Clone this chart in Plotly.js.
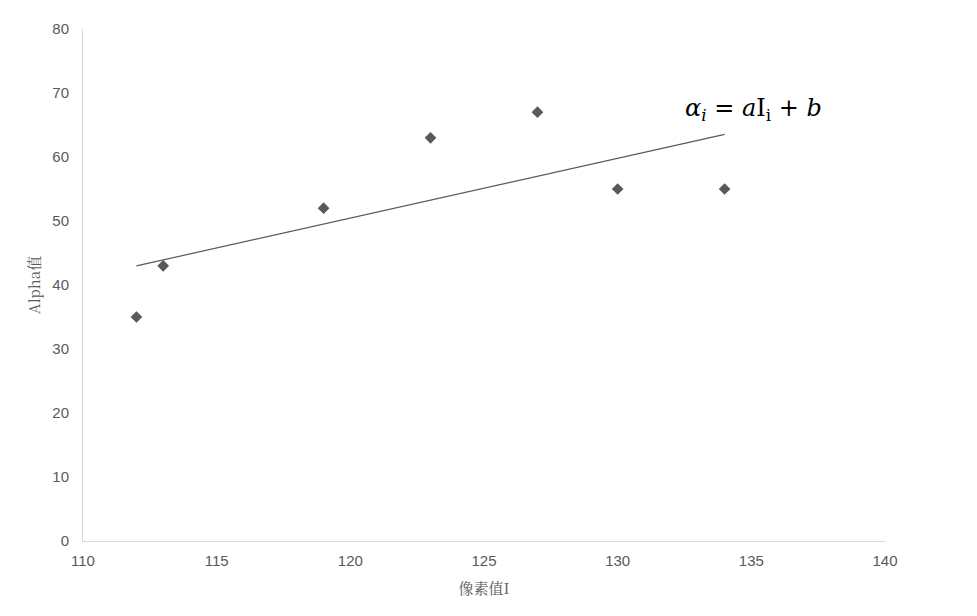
<!DOCTYPE html>
<html>
<head>
<meta charset="utf-8">
<script src="https://cdn.plot.ly/plotly-3.0.1.min.js"></script>
<style>html,body{margin:0;padding:0;background:#fff;}#chart{width:977px;height:616px;}</style>
</head>
<body>
<div id="chart"></div>
<script>
const pixelValues = [112, 113, 119, 123, 127, 130, 134];
const alphaValues = [35, 43, 52, 63, 67, 55, 55];
const xTicks = [110, 115, 120, 125, 130, 135, 140];
const yTicks = [0, 10, 20, 30, 40, 50, 60, 70, 80];

// least-squares linear trendline from the data
const n = pixelValues.length;
const mx = pixelValues.reduce((a, b) => a + b, 0) / n;
const my = alphaValues.reduce((a, b) => a + b, 0) / n;
let sxy = 0, sxx = 0;
for (let i = 0; i < n; i++) {
  sxy += (pixelValues[i] - mx) * (alphaValues[i] - my);
  sxx += (pixelValues[i] - mx) ** 2;
}
const slope = sxy / sxx, intercept = my - slope * mx;
const xMin = Math.min(...pixelValues), xMax = Math.max(...pixelValues);
const trendX = [xMin, xMax];
const trendY = trendX.map(x => slope * x + intercept);

const gray = '#595959';
const data = [
  {x: pixelValues, y: alphaValues, type: 'scatter', mode: 'markers',
   marker: {symbol: 'diamond', size: 9, color: gray}, hoverinfo: 'x+y'},
  {x: trendX, y: trendY, type: 'scatter', mode: 'lines',
   line: {color: gray, width: 1.2}, hoverinfo: 'none'}
];
const layout = {
  width: 977, height: 616,
  margin: {l: 83, r: 92, t: 29, b: 75},
  paper_bgcolor: '#fff', plot_bgcolor: '#fff',
  showlegend: false,
  font: {family: 'Liberation Sans, Arial, sans-serif', color: gray, size: 15},
  xaxis: {range: [110, 140], tickvals: xTicks, ticktext: xTicks.map(String),
    showgrid: false, zeroline: false, showline: true, linecolor: '#d9d9d9', linewidth: 1,
    ticks: '', ticklabelstandoff: 6,
    tickfont: {size: 15, color: gray},
    title: {text: '像素值I', standoff: 15, font: {family: '"Noto Serif CJK SC", "DejaVu Serif", "Liberation Serif", serif', size: 15, color: gray}}},
  yaxis: {range: [0, 80], tickvals: yTicks, ticktext: yTicks.map(String),
    showgrid: false, zeroline: false, showline: true, linecolor: '#d9d9d9', linewidth: 1,
    ticks: '', ticklabelstandoff: 10,
    tickfont: {size: 15, color: gray},
    title: {text: 'Alpha值', standoff: 8, font: {family: '"Noto Serif CJK SC", "Liberation Serif", serif', size: 15, color: gray}}},
  annotations: [{
    xref: 'paper', yref: 'paper', x: 0.836, y: 0.843, xanchor: 'center', yanchor: 'middle',
    showarrow: false,
    text: '<i>α</i><sub><i>i</i></sub> = <i>a</i>I<sub>i</sub> + <i>b</i>',
    font: {family: '"DejaVu Serif", "Liberation Serif", serif', size: 24, color: '#000'}
  }]
};
Plotly.newPlot('chart', data, layout, {displayModeBar: false, staticPlot: true});
</script>
</body>
</html>
